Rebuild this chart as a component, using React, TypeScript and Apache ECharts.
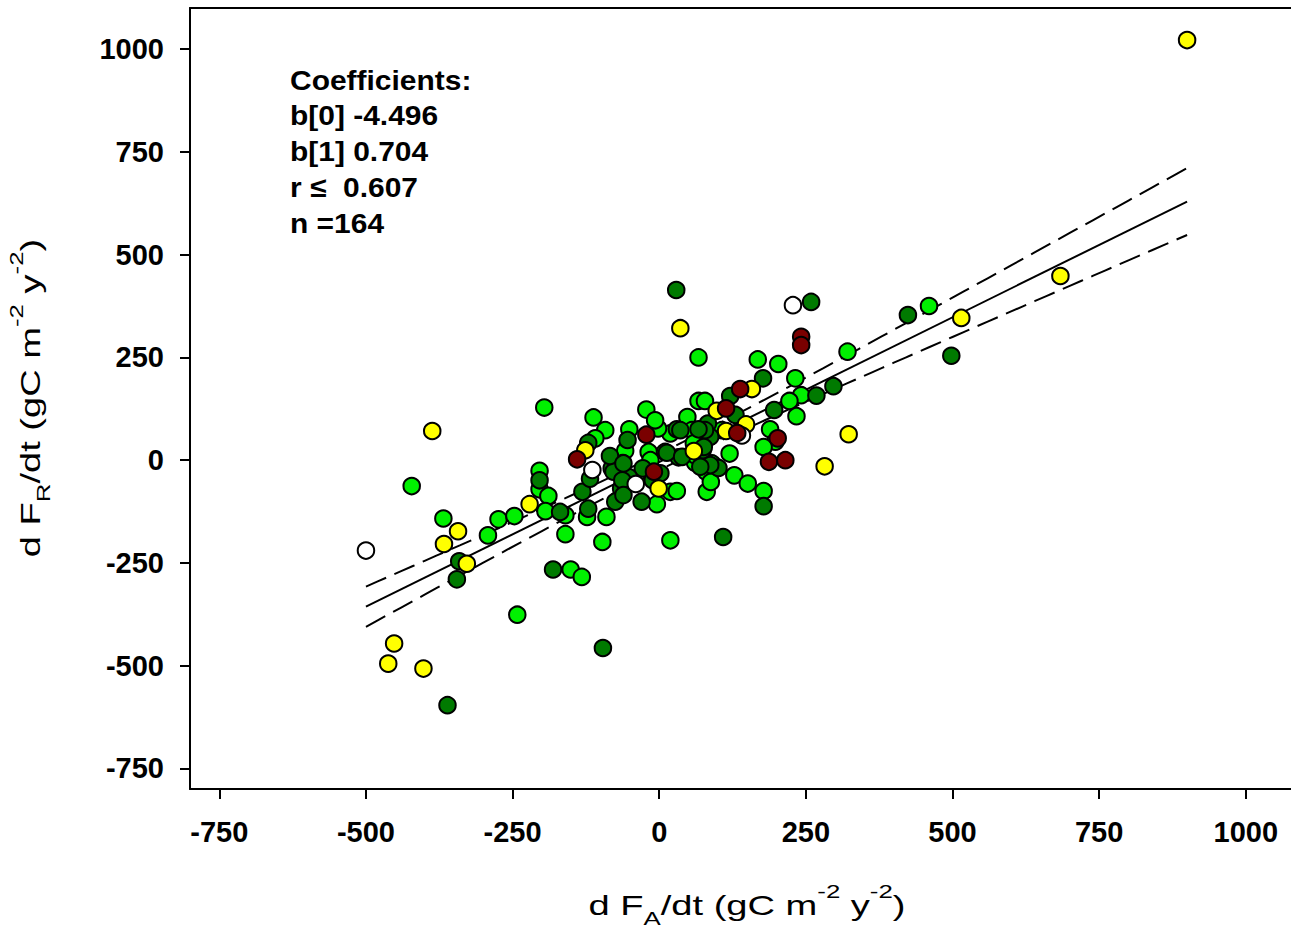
import React, { useEffect, useRef } from "react";
import * as echarts from "echarts";

const FONT = "'Liberation Sans', Arial, Helvetica, sans-serif";

// axis ranges and tick labels
const xRange = [-800, 1100];
const yRange = [-800, 1100];
const xTicks = [-750, -500, -250, 0, 250, 500, 750, 1000];
const yTicks = [-750, -500, -250, 0, 250, 500, 750, 1000];

// observations by colour group: [dFA/dt, dFR/dt]
const lightGreen: [number, number][] = [
  [460, 375], [321, 264], [-196, 128], [-422, -63], [-368, -142], [-292, -183], [-274, -144],
  [-247, -136], [-242, -376], [-151, -266], [-132, -284], [-160, -180], [-97, -199], [19, -195],
  [-204, -26], [-204, -71], [-189, -87], [-194, -124], [-112, 104], [-92, 73], [-123, -138],
  [-90, -138], [-22, 123], [-51, 75], [-58, 23], [-18, 20], [-4, -107],
  [67, 250], [168, 245], [203, 234], [232, 199], [242, 158], [222, 144], [234, 107], [67, 144],
  [78, 144], [48, 105], [189, 75], [198, 45], [178, 32], [120, 16], [61, -6], [80, -28],
  [128, -37], [151, -57], [178, -75], [81, -77], [88, -53], [19, 65], [56, 73], [-2, 77],
  [10, 20], [19, -77], [30, -75], [-7, 97], [-109, 53], [-15, 0], [107, 73], [59, 41],
  [90, -8], [61, 12], [-160, -134],
];

const darkGreen: [number, number][] = [
  [29, 414], [259, 385], [424, 353], [498, 254], [297, 180], [268, 157], [196, 122], [177, 199],
  [109, -187], [178, -112], [-361, -596], [-96, -457], [-181, -266], [-341, -246], [-345, -290],
  [-121, 42], [-204, -49], [-169, -126], [-131, -77], [-121, -118], [-81, -20], [-65, -69],
  [-62, -7], [-75, -101], [-28, -20], [-11, -49], [-30, -101],
  [121, 156], [130, 110], [83, 89], [87, 57], [74, 24], [101, -19], [30, 75], [33, 7], [13, 18],
  [-52, -41], [-78, -28], [-118, -45], [-84, 10], [-61, -8], [78, 73], [-54, 49], [76, 32],
  [87, -12], [2, -32], [-63, -49], [67, 75], [36, 73], [39, 8], [70, -16], [-61, -85],
];

const yellow: [number, number][] = [
  [900, 1022], [684, 448], [515, 346], [323, 63], [282, -15], [36, 321], [-387, 71],
  [-367, -204], [-343, -173], [-328, -252], [-452, -446], [-462, -495], [-402, -507],
  [-221, -107], [158, 173], [98, 120], [148, 87], [114, 71], [59, 22], [-1, -69], [-126, 24],
];

const white: [number, number][] = [
  [-500, -220], [228, 377], [-114, -24], [141, 60], [-40, -58],
];

const darkRed: [number, number][] = [
  [242, 300], [242, 280], [-140, 2], [-22, 62], [138, 173], [114, 126], [133, 66],
  [187, -4], [215, 0], [-9, -28], [202, 53],
];

// regression and its 95% confidence band
const b0 = -4.496;
const b1 = 0.704;
const fitRange = [-500, 900];
const ciMeanX = 7;
const ciMinVar = 400;
const ciSlopeVar = 0.007786;

const coefficientLines = ["Coefficients:", "b[0] -4.496", "b[1] 0.704", "r \u2264  0.607", "n =164"];

export default function App() {
  const ref = useRef<HTMLDivElement>(null);

  useEffect(() => {
    if (!ref.current) return;
    const chart = echarts.init(ref.current, null, { renderer: "svg" });

    const fitLine = fitRange.map((x) => [x, b0 + b1 * x]);
    const bandXs: number[] = [];
    for (let x = fitRange[0]; x <= fitRange[1]; x += 20) bandXs.push(x);
    const hw = (x: number) => Math.sqrt(ciMinVar + ciSlopeVar * (x - ciMeanX) * (x - ciMeanX));
    const upper = bandXs.map((x) => [x, b0 + b1 * x + hw(x)]);
    const lower = bandXs.map((x) => [x, b0 + b1 * x - hw(x)]);

    const scatter = (data: [number, number][], color: string) => ({
      type: "scatter",
      data,
      symbol: "circle",
      symbolSize: 16.5,
      itemStyle: { color, borderColor: "#000", borderWidth: 2, opacity: 1 },
      emphasis: { disabled: true },
      z: 5,
    });

    const lineSeries = (data: number[][], dashed: boolean) => ({
      type: "line",
      data,
      showSymbol: false,
      symbol: "none",
      smooth: false,
      lineStyle: { color: "#000", width: 2, type: dashed ? [22, 9] : "solid" },
      emphasis: { disabled: true },
      z: 3,
    });

    const labelStyle = {
      color: "#000",
      fontFamily: FONT,
      fontWeight: "bold",
      fontSize: 29,
    };

    const titleRich = {
      m: { fontFamily: FONT, fontSize: 28, lineHeight: 46, fill: "#000" },
      sup: { fontFamily: FONT, fontSize: 19, lineHeight: 19, verticalAlign: "top", fill: "#000" },
      sub: { fontFamily: FONT, fontSize: 19, lineHeight: 13, verticalAlign: "bottom", fill: "#000" },
    };

    const coefTexts = coefficientLines.map((t, i) => ({
      type: "text",
      x: 290,
      y: 80 + i * 35.8,
      scaleX: 1.07,
      style: {
        text: t,
        fontFamily: FONT,
        fontWeight: "bold",
        fontSize: 28,
        fill: "#000",
        align: "left",
        verticalAlign: "middle",
      },
      z: 10,
    }));

    chart.setOption({
      animation: false,
      backgroundColor: "#fff",
      grid: { left: 190, top: 8, right: 0.6, bottom: 141 },
      xAxis: [
        {
          type: "value",
          position: "bottom",
          min: xRange[0],
          max: xRange[1],
          axisLine: { show: true, onZero: false, lineStyle: { color: "#000", width: 2 } },
          axisTick: { show: true, inside: false, length: 10, lineStyle: { color: "#000", width: 2 }, customValues: xTicks },
          axisLabel: { ...labelStyle, margin: 28, customValues: xTicks, formatter: (v: number) => String(v) },
          splitLine: { show: false },
        },
        {
          type: "value",
          position: "top",
          min: xRange[0],
          max: xRange[1],
          axisLine: { show: true, onZero: false, lineStyle: { color: "#000", width: 2 } },
          axisTick: { show: false },
          axisLabel: { show: false },
          splitLine: { show: false },
        },
      ],
      yAxis: {
        type: "value",
        min: yRange[0],
        max: yRange[1],
        axisLine: { show: true, onZero: false, lineStyle: { color: "#000", width: 2 } },
        axisTick: { show: true, inside: false, length: 10, lineStyle: { color: "#000", width: 2 }, customValues: yTicks },
        axisLabel: { ...labelStyle, margin: 26, customValues: yTicks, formatter: (v: number) => String(v) },
        splitLine: { show: false },
      },
      series: [
        lineSeries(fitLine, false),
        lineSeries(upper, true),
        lineSeries(lower, true),
        scatter(lightGreen, "#00F000"),
        scatter(darkGreen, "#007A00"),
        scatter(yellow, "#FFFF00"),
        scatter(white, "#FFFFFF"),
        scatter(darkRed, "#7A0000"),
      ],
      graphic: [
        ...coefTexts,
        {
          type: "text",
          x: 747,
          y: 905,
          scaleX: 1.36,
          style: {
            text: "{m|d F}{sub|A}{m|/dt (gC m}{sup|-2}{m| y}{sup|-2}{m|)}",
            rich: titleRich,
            align: "center",
            verticalAlign: "middle",
            fill: "#000",
          },
        },
        {
          type: "text",
          x: 30,
          y: 398,
          rotation: Math.PI / 2,
          scaleX: 1.36,
          style: {
            text: "{m|d F}{sub|R}{m|/dt (gC m}{sup|-2}{m| y}{sup|-2}{m|)}",
            rich: titleRich,
            align: "center",
            verticalAlign: "middle",
            fill: "#000",
          },
        },
      ],
    });

    return () => chart.dispose();
  }, []);

  return (
    <div
      style={{ position: "fixed", left: 0, top: 0, width: 1291, height: 930, overflow: "hidden", background: "#fff" }}
    >
      <div ref={ref} style={{ width: 1305, height: 930 }} />
    </div>
  );
}
